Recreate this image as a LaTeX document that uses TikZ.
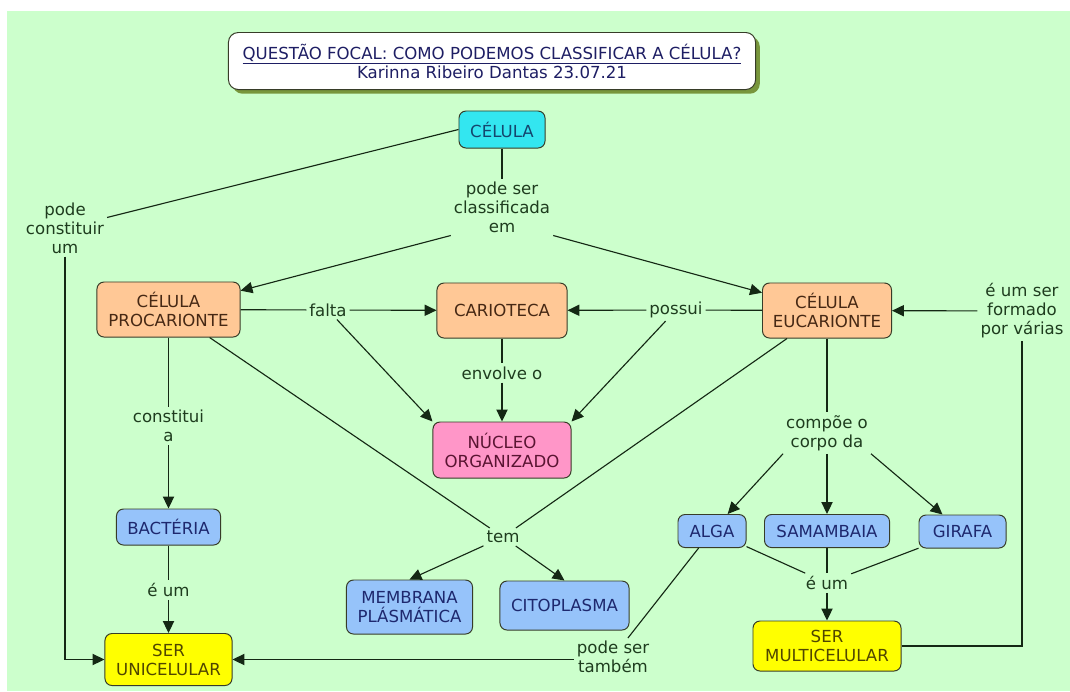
\documentclass[tikz,border=0pt]{standalone}
\usepackage{fontspec}
\setmainfont{DejaVu Sans}
\usepackage{xcolor}
\usepackage{tikz}
\usetikzlibrary{arrows.meta,positioning,shadows}

\definecolor{fundo}{RGB}{204,255,204}
\definecolor{borda}{RGB}{55,60,40}
\definecolor{traco}{RGB}{20,40,20}
\definecolor{txtlig}{RGB}{30,60,30}
\definecolor{ciano}{RGB}{51,230,240}
\definecolor{salmao}{RGB}{255,200,150}
\definecolor{rosa}{RGB}{255,150,200}
\definecolor{azul}{RGB}{150,195,250}
\definecolor{amarelo}{RGB}{255,255,0}
\definecolor{sombra}{RGB}{120,150,60}
\definecolor{marinho}{RGB}{30,30,100}

\begin{document}
\begin{tikzpicture}[
    x=0.025cm, y=-0.025cm,
    every node/.style={font=\fontsize{11.8}{13.5}\selectfont},
    conceito/.style={
      rectangle, rounded corners=5pt, draw=borda, line width=0.7pt,
      align=center, inner sep=0pt
    },
    cianobox/.style={conceito, fill=ciano, text={rgb,255:red,20;green,70;blue,110}},
    salmaobox/.style={conceito, fill=salmao, text={rgb,255:red,70;green,40;blue,20}},
    rosabox/.style={conceito, fill=rosa, text={rgb,255:red,90;green,20;blue,50}},
    azulbox/.style={conceito, fill=azul, text={rgb,255:red,30;green,40;blue,110}},
    amarelobox/.style={conceito, fill=amarelo, text={rgb,255:red,80;green,70;blue,0}},
    ligacao/.style={align=center, inner sep=2pt, text=txtlig},
    linha/.style={line width=0.8pt, traco},
    seta/.style={linha, -{Triangle[length=8.5pt, width=8pt]}}
  ]
    % fundo
    \useasboundingbox (0,0) rectangle (1070,691);
    \fill[white] (0,0) rectangle (1070,691);
    \fill[fundo] (7,11) rectangle (1070,691);

    % questao focal
    \node[conceito, fill=white, text=marinho, rounded corners=7pt,
      minimum width=13.175cm, minimum height=1.425cm,
      drop shadow={shadow xshift=3pt, shadow yshift=-3pt, fill=sombra, opacity=1}]
      (titulo) at (492,61)
      {\underline{QUESTÃO FOCAL: COMO PODEMOS CLASSIFICAR A CÉLULA?}\\Karinna Ribeiro Dantas 23.07.21};

    % conceitos
    \node[cianobox, minimum width=2.15cm, minimum height=0.925cm] (celula) at (502,129.5) {CÉLULA};
    \node[salmaobox, minimum width=3.575cm, minimum height=1.375cm] (proc) at (168.5,309.5) {CÉLULA\\PROCARIONTE};
    \node[salmaobox, minimum width=3.25cm, minimum height=1.375cm] (cario) at (502,310.5) {CARIOTECA};
    \node[salmaobox, minimum width=3.225cm, minimum height=1.375cm] (euca) at (827,310.5) {CÉLULA\\EUCARIONTE};
    \node[rosabox, minimum width=3.45cm, minimum height=1.4cm] (nucleo) at (502,450) {NÚCLEO\\ORGANIZADO};
    \node[azulbox, minimum width=2.6cm, minimum height=0.9cm] (bact) at (168.5,527) {BACTÉRIA};
    \node[azulbox, minimum width=3.15cm, minimum height=1.35cm] (membrana) at (409.5,607) {MEMBRANA\\PLÁSMÁTICA};
    \node[azulbox, minimum width=3.225cm, minimum height=1.225cm] (cito) at (564.5,605.5) {CITOPLASMA};
    \node[azulbox, minimum width=1.7cm, minimum height=0.825cm] (alga) at (712,531) {ALGA};
    \node[azulbox, minimum width=3.125cm, minimum height=0.825cm] (samamb) at (827,531) {SAMAMBAIA};
    \node[azulbox, minimum width=2.175cm, minimum height=0.825cm] (girafa) at (962.5,531.5) {GIRAFA};
    \node[amarelobox, minimum width=3.175cm, minimum height=1.3cm] (unicel) at (168.5,659.5) {SER\\UNICELULAR};
    \node[amarelobox, minimum width=3.7cm, minimum height=1.25cm] (multicel) at (827,646) {SER\\MULTICELULAR};

    % frases de ligacao
    \node[ligacao] (classif) at (502,207) {pode ser\\classificada\\em};
    \node[ligacao] (constituir) at (65,228) {pode\\constituir\\um};
    \node[ligacao] (falta) at (328,310) {falta};
    \node[ligacao] (possui) at (676,310) {possui};
    \node[ligacao] (formado) at (1022,311) {é um ser\\formado\\por várias};
    \node[ligacao] (envolve) at (502,373) {envolve o};
    \node[ligacao] (constitui) at (168.5,426) {constitui\\a};
    \node[ligacao] (compoe) at (827,433) {compõe o\\corpo da};
    \node[ligacao] (tem) at (503,537) {tem};
    \node[ligacao] (eum1) at (168.5,590) {é um};
    \node[ligacao] (eum2) at (827,583) {é um};
    \node[ligacao] (tambem) at (613,657) {pode ser\\também};

    % celula
    \draw[linha] (celula) -- (classif);
    \draw[seta] (classif.south west) -- (proc);
    \draw[seta] (classif.south east) -- (euca);
    \draw[linha] (celula.west) -- (constituir);
    \draw[seta] (constituir.south) |- (unicel.west);

    % carioteca e nucleo
    \draw[linha] (proc) -- (falta);
    \draw[seta] (falta) -- (cario);
    \draw[seta] (falta) -- (nucleo.north west);
    \draw[linha] (euca) -- (possui);
    \draw[seta] (possui) -- (cario);
    \draw[seta] (possui) -- (nucleo.north east);
    \draw[linha] (cario) -- (envolve);
    \draw[seta] (envolve) -- (nucleo);

    % procarionte
    \draw[linha] (proc) -- (constitui);
    \draw[seta] (constitui) -- (bact);
    \draw[linha] (bact) -- (eum1);
    \draw[seta] (eum1) -- (unicel);

    % tem
    \draw[linha] (proc) -- (tem);
    \draw[linha] (euca) -- (tem);
    \draw[seta] (tem) -- (membrana.north);
    \draw[seta] (tem) -- (cito.north);

    % eucarionte
    \draw[linha] (euca) -- (compoe);
    \draw[seta] (compoe.south west) -- (alga);
    \draw[seta] (compoe) -- (samamb);
    \draw[seta] (compoe.south east) -- (girafa);
    \draw[linha] (alga) -- (eum2);
    \draw[linha] (samamb) -- (eum2);
    \draw[linha] (girafa) -- (eum2);
    \draw[seta] (eum2) -- (multicel);
    \draw[linha] (multicel.east) -| (formado.south);
    \draw[seta] (formado) -- (euca);
    \draw[linha] (alga) -- (tambem);
    \draw[seta] (tambem.west |- unicel.east) -- (unicel.east);
\end{tikzpicture}
\end{document}
